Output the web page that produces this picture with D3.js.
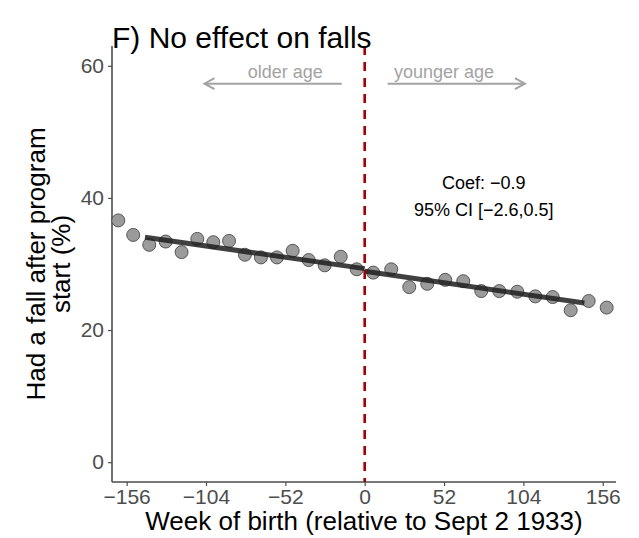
<!DOCTYPE html>
<html>
<head>
<meta charset="utf-8">
<script src="https://cdn.jsdelivr.net/npm/d3@7"></script>
<style>
  body { margin: 0; background: #fff; }
  svg { display: block; font-family: "Liberation Sans", Arial, Helvetica, sans-serif; }
</style>
</head>
<body>
<svg id="chart" width="639" height="538"></svg>
<script>
// ---- data ----
const weeksBefore = [-161.5, -151.7, -141.2, -130.4, -120.0, -109.7, -99.2, -88.9, -78.5, -68.0, -57.5, -47.2, -36.7, -26.2, -15.7, -5.2];
const fallsBefore = [36.6, 34.4, 32.9, 33.4, 31.8, 33.8, 33.3, 33.5, 31.4, 31.0, 31.0, 32.0, 30.6, 29.8, 31.1, 29.2];
const weeksAfter = [5.6, 17.4, 29.2, 41.0, 52.8, 64.6, 76.4, 88.2, 100.0, 111.8, 123.2, 135.0, 146.8, 158.6];
const fallsAfter = [28.7, 29.2, 26.5, 27.0, 27.6, 27.4, 25.9, 25.9, 25.8, 25.1, 25.0, 23.0, 24.4, 23.4];
const fitWeeksBefore = [-144, 0];
const fitBefore = [34.05, 29.3];
const fitWeeksAfter = [0, 144];
const fitAfter = [28.9, 24.1];
const xTicks = [-156, -104, -52, 0, 52, 104, 156];
const yTicks = [0, 20, 40, 60];
const title = "F) No effect on falls";
const xTitle = "Week of birth (relative to Sept 2 1933)";
const yTitle = ["Had a fall after program", "start (%)"];
const coefLines = ["Coef: \u22120.9", "95% CI [\u22122.6,0.5]"];
const arrowLeft = { from: -15, to: -105, y: 57.3, label: "older age", labelX: -52, labelY: 58.8 };
const arrowRight = { from: 15, to: 105, y: 57.3, label: "younger age", labelX: 52, labelY: 58.8 };

// ---- layout ----
const L = 112, R = 616, T = 46, B = 482;
const svg = d3.select("#chart");
const x = d3.scaleLinear().domain([-165.6, 164.7]).range([L, R]);
const y = d3.scaleLinear().domain([-3, 63]).range([B, T]);
const axisCol = "#4D4D4D";

// axes
const xAxis = svg.append("g").attr("transform", `translate(0,${B})`)
  .call(d3.axisBottom(x).tickValues(xTicks).tickSize(4).tickPadding(3)
    .tickFormat(d => d < 0 ? "\u2212" + Math.abs(d) : d));
const yAxis = svg.append("g").attr("transform", `translate(${L},0)`)
  .call(d3.axisLeft(y).tickValues(yTicks).tickSize(4).tickPadding(4));
[xAxis, yAxis].forEach(g => {
  g.select(".domain").attr("stroke", axisCol).attr("stroke-width", 1.6);
  g.selectAll(".tick line").attr("stroke", axisCol).attr("stroke-width", 1.2);
  g.selectAll(".tick text").attr("fill", axisCol).style("font-size", "21px")
    .style("font-family", "Liberation Sans, Arial, sans-serif");
});
xAxis.select(".domain").attr("d", `M${L},0H${R}`);
yAxis.select(".domain").attr("d", `M0,${T}V${B}`);

// points
const pts = weeksBefore.map((w, i) => ({ w, v: fallsBefore[i] }))
  .concat(weeksAfter.map((w, i) => ({ w, v: fallsAfter[i] })));
svg.append("g").selectAll("circle").data(pts).enter().append("circle")
  .attr("cx", d => x(d.w)).attr("cy", d => y(d.v)).attr("r", 6.5)
  .attr("fill", "#9B9B9B").attr("stroke", "#4A4A4A").attr("stroke-width", 0.9);

// fit lines
const line = d3.line().x(d => x(d[0])).y(d => y(d[1]));
[[fitWeeksBefore, fitBefore], [fitWeeksAfter, fitAfter]].forEach(([ws, vs]) => {
  svg.append("path").attr("d", line(ws.map((w, i) => [w, vs[i]])))
    .attr("fill", "none").attr("stroke", "#1E1E1E").attr("stroke-opacity", 0.85)
    .attr("stroke-width", 5);
});

// cutoff line
svg.append("line").attr("x1", x(0)).attr("x2", x(0)).attr("y1", T).attr("y2", B)
  .attr("stroke", "#A50000").attr("stroke-width", 2.6).attr("stroke-dasharray", "9,7");

// arrows
[arrowLeft, arrowRight].forEach(a => {
  const x1 = x(a.from), x2 = x(a.to), yy = y(a.y);
  const dir = Math.sign(x2 - x1);
  svg.append("line").attr("x1", x1).attr("x2", x2).attr("y1", yy).attr("y2", yy)
    .attr("stroke", "#A3A3A3").attr("stroke-width", 2);
  svg.append("path")
    .attr("d", `M${x2 - dir * 10},${yy - 5.5}L${x2},${yy}L${x2 - dir * 10},${yy + 5.5}`)
    .attr("fill", "none").attr("stroke", "#A3A3A3").attr("stroke-width", 2);
  svg.append("text").attr("x", x(a.labelX)).attr("y", y(a.labelY))
    .attr("text-anchor", "middle").attr("dominant-baseline", "middle")
    .attr("fill", "#A3A3A3").style("font-size", "18px").text(a.label);
});

// coefficient text
svg.append("g").selectAll("text").data(coefLines).enter().append("text")
  .attr("x", x(78)).attr("y", (d, i) => y(42) + i * 26.7)
  .attr("text-anchor", "middle").attr("dominant-baseline", "middle")
  .attr("fill", "#000").style("font-size", "18px").text(d => d);

// titles
svg.append("text").attr("x", L).attr("y", 48).attr("fill", "#000")
  .style("font-size", "30px").text(title);
svg.append("text").attr("x", (L + R) / 2).attr("y", 530).attr("text-anchor", "middle")
  .attr("fill", "#000").style("font-size", "26px").text(xTitle);
svg.append("g").attr("transform", `translate(0,${(T + B) / 2}) rotate(-90)`)
  .selectAll("text").data(yTitle).enter().append("text")
  .attr("x", 0).attr("y", (d, i) => 45 + i * 25).attr("text-anchor", "middle")
  .attr("fill", "#000").style("font-size", "26px").text(d => d);
</script>
</body>
</html>
